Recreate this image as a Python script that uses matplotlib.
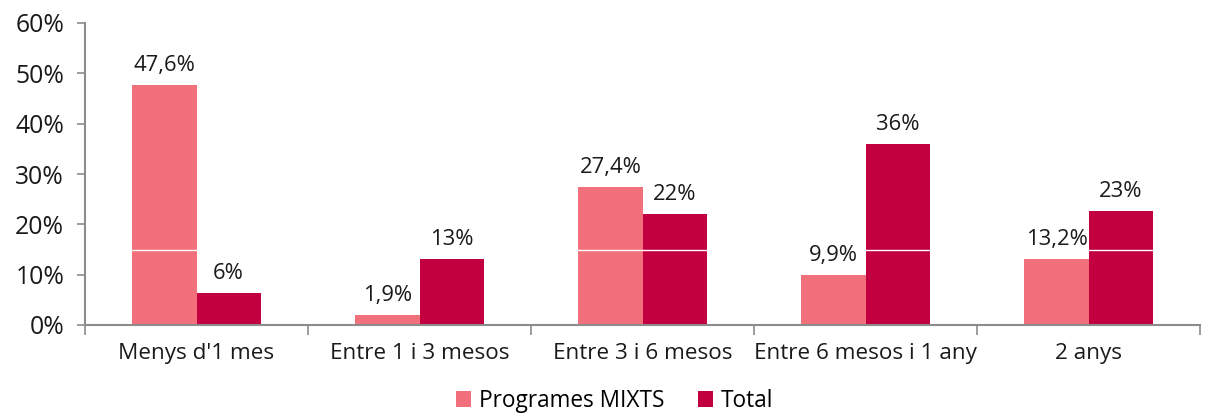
import matplotlib
matplotlib.use("Agg")
import matplotlib.pyplot as plt
import numpy as np

categories = ["Menys d'1 mes", "Entre 1 i 3 mesos", "Entre 3 i 6 mesos",
              "Entre 6 mesos i 1 any", "2 anys"]
mixts = [47.6, 1.9, 27.4, 9.9, 13.2]
total = [6.3, 13.1, 22.1, 36.0, 22.7]
series_names = ["Programes MIXTS", "Total"]
yticks = [0, 10, 20, 30, 40, 50, 60]

c_pink = "#F2707B"
c_dark = "#C20040"
spine_c = "#8C8C8C"

plt.rcParams['font.family'] = ['Open Sans', 'DejaVu Sans']

fig = plt.figure(figsize=(12.13, 4.17), dpi=100)
ax = fig.add_axes([85/1213, (417-325)/417, 1115/1213, 302/417])

x = np.arange(len(categories))
w = 0.287
b1 = ax.bar(x - w/2, mixts, w, color=c_pink, label=series_names[0], zorder=2)
b2 = ax.bar(x + w/2, total, w, color=c_dark, label=series_names[1], zorder=2)

for xi, v in zip(x, mixts):
    ax.text(xi - w/2, v + 1.8, f"{v:.1f}%".replace('.', ','), ha='center', va='bottom',
            fontsize=15.8, color='#1a1a1a', zorder=4)
for xi, v in zip(x, total):
    ax.text(xi + w/2, v + 1.8, f"{v:.0f}%", ha='center', va='bottom',
            fontsize=15.8, color='#1a1a1a', zorder=4)

ax.set_xlim(-0.5, len(categories) - 0.5)
ax.set_ylim(0, 60)
ax.set_yticks(yticks)
ax.set_yticklabels([f"{t}%" for t in yticks], fontsize=17.8, color='#1a1a1a')
ax.set_xticks(np.arange(len(categories) + 1) - 0.5)
ax.set_xticklabels([])
ax.set_xticks(x, minor=True)
ax.set_xticklabels(categories, minor=True, fontsize=16.2, color='#1a1a1a')
ax.tick_params(axis='x', which='minor', length=0, pad=13)
ax.tick_params(axis='x', which='major', length=7, width=1.2, color=spine_c, direction='out')
ax.tick_params(axis='y', length=6, width=1.2, color=spine_c, pad=9)
for s in ['top', 'right']:
    ax.spines[s].set_visible(False)
for s in ['left', 'bottom']:
    ax.spines[s].set_color(spine_c)
    ax.spines[s].set_linewidth(1.5)

ax.axhline(15, color='white', lw=1, zorder=2.5)

leg = fig.legend(handles=[b1, b2], labels=series_names, loc='center',
                 bbox_to_anchor=(615/1213, 1 - 401/417), ncol=2, frameon=False,
                 fontsize=16.3, handlelength=0.65, handleheight=0.65, handletextpad=0.35,
                 columnspacing=1.5)

fig.savefig("out.png", dpi=100)
